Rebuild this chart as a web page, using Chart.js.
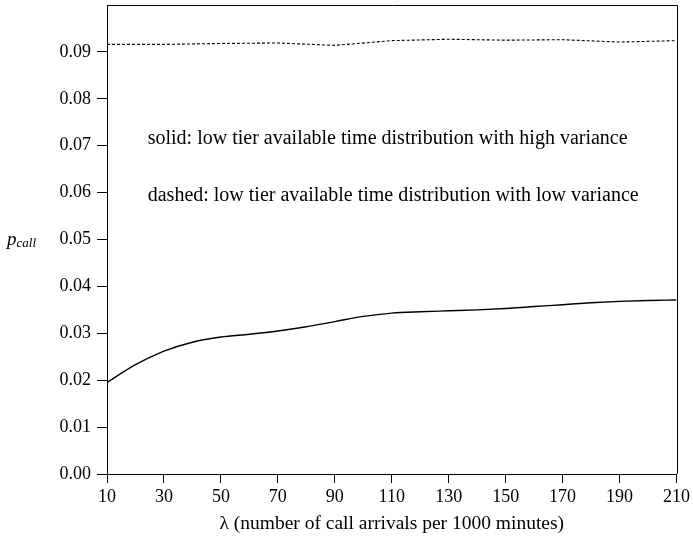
<!DOCTYPE html>
<html lang="en">
  <head>
    <meta charset="UTF-8" />
    <title>p_call vs lambda</title>
    <script src="https://cdn.jsdelivr.net/npm/chart.js"></script>
    <style>
      body {
        margin: 0;
        background-color: #fff;
      }
    </style>
  </head>
  <body>
    <canvas id="pcallChart" width="693" height="544"></canvas>

    <script>
      // lambda values (call arrivals per 1000 minutes)
      const lambdaSolid = [
        10, 20, 30, 40, 50, 60, 70, 80, 90, 100, 110, 120, 130, 140, 150, 160,
        170, 180, 190, 200, 210,
      ];
      // solid: high variance
      const pcallSolid = [
        0.0195, 0.0233, 0.0262, 0.0281, 0.0292, 0.0298, 0.0305, 0.0314, 0.0325,
        0.0336, 0.0343, 0.0346, 0.0348, 0.035, 0.0353, 0.0357, 0.0361, 0.0365,
        0.0368, 0.037, 0.0371,
      ];
      const lambdaDashed = [10, 30, 50, 70, 90, 110, 130, 150, 170, 190, 210];
      // dashed: low variance
      const pcallDashed = [
        0.0916, 0.0916, 0.0918, 0.0919, 0.0914, 0.0924, 0.0927, 0.0925, 0.0926,
        0.0921, 0.0924,
      ];
      const xTicks = [10, 30, 50, 70, 90, 110, 130, 150, 170, 190, 210];
      const yTicks = [0, 0.01, 0.02, 0.03, 0.04, 0.05, 0.06, 0.07, 0.08, 0.09, 0.1];
      const notes = [
        "solid: low tier available time distribution with high variance",
        "dashed: low tier available time distribution with low variance",
      ];
      const noteLambda = 24.3;
      const noteY = [0.0715, 0.0593];

      const serif = "'Liberation Serif', 'Times New Roman', serif";

      const toPoints = (xs, ys) => xs.map((x, i) => ({ x: x, y: ys[i] }));

      // frame, notes and the y label
      const extras = {
        id: "extras",
        afterDraw(chart) {
          const { ctx, chartArea: a } = chart;
          const x = chart.scales.x;
          const y = chart.scales.y;
          ctx.save();
          ctx.strokeStyle = "#000";
          ctx.lineWidth = 1;
          ctx.beginPath();
          ctx.moveTo(a.left, Math.round(a.top) + 0.5);
          ctx.lineTo(Math.round(a.right) + 0.5, Math.round(a.top) + 0.5);
          ctx.lineTo(Math.round(a.right) + 0.5, a.bottom);
          ctx.stroke();

          ctx.fillStyle = "#000";
          ctx.textBaseline = "middle";
          ctx.textAlign = "left";
          ctx.font = "20px " + serif;
          notes.forEach((t, i) => {
            ctx.fillText(t, x.getPixelForValue(noteLambda), y.getPixelForValue(noteY[i]));
          });

          const ly = y.getPixelForValue(0.05);
          ctx.font = "italic 19px " + serif;
          ctx.fillText("p", 7, ly);
          const pw = ctx.measureText("p").width;
          ctx.font = "italic 13px " + serif;
          ctx.fillText("call", 7 + pw, ly + 4);
          ctx.restore();
        },
      };

      const ctx = document.getElementById("pcallChart").getContext("2d");
      new Chart(ctx, {
        type: "line",
        data: {
          datasets: [
            {
              label: "solid",
              data: toPoints(lambdaSolid, pcallSolid),
              borderColor: "#000",
              borderWidth: 1.4,
              pointRadius: 0,
              cubicInterpolationMode: "monotone",
            },
            {
              label: "dashed",
              data: toPoints(lambdaDashed, pcallDashed),
              borderColor: "#000",
              borderWidth: 1.1,
              borderDash: [3, 2],
              pointRadius: 0,
              tension: 0,
            },
          ],
        },
        options: {
          responsive: false,
          animation: false,
          layout: { padding: { top: 5, right: 14, bottom: 0, left: 0 } },
          plugins: {
            legend: { display: false },
            tooltip: { enabled: false },
          },
          scales: {
            x: {
              type: "linear",
              min: 10,
              max: 210,
              afterBuildTicks: (s) => {
                s.ticks = xTicks.map((v) => ({ value: v }));
              },
              afterFit: (s) => {
                s.height = 70;
              },
              border: { color: "#000", width: 1 },
              grid: {
                drawOnChartArea: false,
                tickLength: 9,
                tickColor: "#000",
              },
              ticks: {
                color: "#000",
                padding: 3,
                maxRotation: 0,
                font: { family: serif, size: 18 },
              },
              title: {
                display: true,
                text: "λ (number of call arrivals per 1000 minutes)",
                color: "#000",
                font: { family: serif, size: 19.5 },
                padding: { top: 0, bottom: 8 },
              },
            },
            y: {
              type: "linear",
              min: 0,
              max: 0.1,
              afterBuildTicks: (s) => {
                s.ticks = yTicks.map((v) => ({ value: v }));
              },
              afterFit: (s) => {
                s.width = 107;
                s.paddingTop = 0;
                s.paddingBottom = 0;
              },
              border: { color: "#000", width: 1 },
              grid: {
                drawOnChartArea: false,
                tickLength: 10,
                tickColor: (c) =>
                  c.tick && c.tick.value > 0.095 ? "rgba(0,0,0,0)" : "#000",
              },
              ticks: {
                color: "#000",
                padding: 6,
                font: { family: serif, size: 18 },
                callback: (v) => (v > 0.095 ? "" : v.toFixed(2)),
              },
            },
          },
        },
        plugins: [extras],
      });
    </script>
  </body>
</html>
